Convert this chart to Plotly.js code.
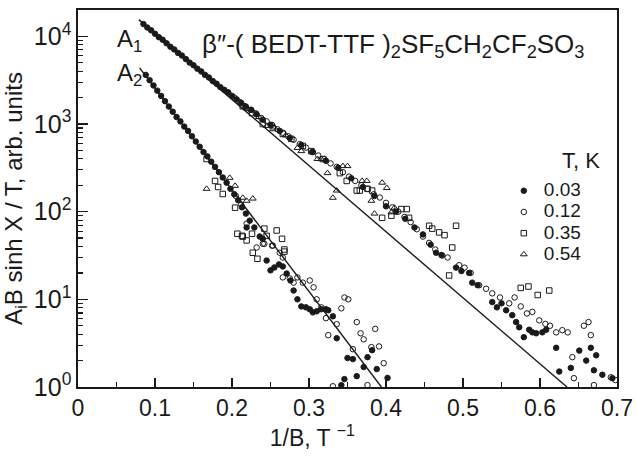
<!DOCTYPE html>
<html><head><meta charset="utf-8">
<script src="https://cdn.plot.ly/plotly-3.0.1.min.js"></script>
<style>
html,body{margin:0;padding:0;background:#fff}
#chart .legendtext{font-size:19px !important}
</style>
</head><body><div id="chart" style="width:637px;height:458px"></div>
<script>
// ---- T = 0.03 K (filled circles) ----
const x003 = [0.085,0.090,0.095,0.100,0.105,0.110,0.115,0.120,0.125,0.130,0.135,0.140,0.145,0.150,0.155,0.160,0.165,0.170,0.175,0.180,0.185,0.190,0.195,0.200,0.206,0.212,0.218,0.225,0.232,0.240,0.250,0.262,0.275,0.290,0.305,0.322,0.338,0.355,0.370,0.385,0.400,0.413,0.425,0.437,0.448,0.458,0.465,0.472,0.491,0.498,0.508,0.512,0.519,0.538,0.544,0.550,0.556,0.564,0.569,0.573,0.579,0.586,0.590,0.595,0.603,0.608,0.621,0.625,0.640,0.651,0.660,0.666,0.670,0.673,0.681,0.694,
  0.088,0.093,0.098,0.103,0.108,0.113,0.118,0.123,0.128,0.133,0.138,0.143,0.148,0.153,0.158,0.163,0.168,0.173,0.178,0.183,0.188,0.193,0.198,0.203,0.208,0.213,0.218,0.223,0.219,0.229,0.236,0.240,0.245,0.250,0.255,0.261,0.266,0.271,0.276,0.280,0.285,0.290,0.296,0.301,0.305,0.310,0.316,0.322,0.325,0.331,0.336,0.342,0.346,0.350,0.357,0.362,0.371,0.376,0.382,0.388,0.402];
const y003 = [13800,12600,11700,10700,9770,9120,8320,7590,7080,6460,6030,5500,5010,4680,4270,3980,3630,3390,3090,2880,2630,2450,2290,2090,1910,1740,1580,1450,1290,1120,977,832,692,575,479,380,316,240,191,151,115,100,83,66,55,42,34,32,23,21,20,15.5,14.5,9.3,8.1,9.0,7.5,6.6,5.5,4.8,3.7,4.5,4.2,4.1,4.2,4.5,2.8,1.5,1.65,2.6,2.0,2.8,1.55,2.3,1.38,1.26,
  3630,3160,2750,2400,2090,1820,1580,1380,1200,1070,933,832,724,631,550,479,427,372,324,282,245,214,182,158,135,112,95,79,66,66,52,49,27.7,21.4,23.1,25,23.7,19.7,16.4,12.6,10,8.3,8.1,7.7,7.1,7.3,7.7,7.7,7.5,6.4,3.6,1.05,1.23,2.14,2.08,1.33,1.69,2.19,2.63,1.6,1.27];

// ---- T = 0.12 K (open circles) ----
const x012 = [0.195,0.203,0.210,0.217,0.224,0.231,0.238,0.245,0.252,0.259,0.266,0.273,0.280,0.288,0.296,0.304,0.312,0.320,0.328,0.336,0.344,0.352,0.360,0.368,0.376,0.384,0.392,0.400,0.408,0.416,0.424,0.432,0.440,0.448,0.456,0.464,0.473,0.480,0.495,0.502,0.510,0.521,0.530,0.538,0.548,0.560,0.567,0.575,0.583,0.590,0.599,0.607,0.613,0.621,0.629,0.636,0.642,0.644,0.657,0.663,0.666,0.670,0.692,0.698,
  0.205,0.212,0.219,0.232,0.240,0.242,0.252,0.253,0.262,0.266,0.266,0.275,0.280,0.285,0.292,0.301,0.306,0.310,0.316,0.322,0.325,0.336,0.342,0.346,0.351,0.357,0.362,0.367,0.371,0.381,0.386,0.391,0.397,0.331,0.376];
const y012 = [2290,2000,1780,1580,1450,1320,1170,1070,977,871,794,724,661,589,537,479,437,398,355,324,282,251,224,200,182,158,145,126,112,100,87,76,63,52,44,37,31.6,30,24.5,23,20,14.5,13.2,11.7,10.5,9.0,10.5,8.3,6.9,7.2,5.75,5.25,5.0,4.2,4.45,4.2,2.19,1.26,5.0,5.5,3.9,1.05,1.29,1.2,
  151,120,73,39,43,43,41,41,34,30,17.8,17.3,15.5,17.8,15.5,16.4,13.7,10,8.1,6.1,3.9,5.2,7.9,10.5,10,2.7,5.5,4.1,3.5,2.85,4.6,2.9,1.87,1.02,1.05];

// ---- T = 0.35 K (open squares) ----
const x035 = [0.214,0.226,0.240,0.253,0.266,0.277,0.292,0.303,0.318,0.340,0.349,0.362,0.366,0.376,0.382,0.395,0.407,0.420,0.427,0.430,0.456,0.460,0.469,0.476,0.491,0.486,0.482,0.575,0.585,0.597,0.612,
  0.167,0.178,0.182,0.188,0.204,0.207,0.214,0.219,0.226,0.245,0.258,0.265,0.268,0.242,0.233,0.213,0.227,0.268];
const y035 = [1590,1330,1000,900,770,676,562,490,398,275,224,174,174,182,174,85,90,107,107,85,69,64,58,54,69,39,18.7,13.5,14,11.2,12.6,
  398,224,191,159,111,56,52,47,56,53,61,49,37,64,29,53,34,35];

// ---- T = 0.54 K (open triangles) ----
const x054 = [0.220,0.235,0.245,0.255,0.270,0.285,0.290,0.311,0.316,0.324,0.331,0.336,0.344,0.350,0.369,0.375,0.395,0.401,0.381,0.385,0.407,0.411,
  0.167,0.197,0.204,0.219,0.227,0.214];
const y054 = [1480,1200,950,912,741,533,490,398,398,275,144,174,331,331,224,224,214,186,133,95,98,111,
  182,243,197,133,141,144];

// ---- fitted straight lines ----
const fitA1x = [0.079, 0.635];
const fitA1y = [15500, 1];
const fitA2x = [0.080, 0.394];
const fitA2y = [4370, 1];

// ---- labels ----
const seriesNames = ['0.03','0.12','0.35','0.54'];
const xTickVals = [0,0.1,0.2,0.3,0.4,0.5,0.6,0.7];
const xTickText = ['0','0.1','0.2','0.3','0.4','0.5','0.6','0.7'];
const yTickVals = [1,10,100,1000,10000];
const yTickText = ['10<sup>0</sup>','10<sup>1</sup>','10<sup>2</sup>','10<sup>3</sup>','10<sup>4</sup>'];

const FONT = 'Liberation Sans, Arial, Helvetica, sans-serif';
const INK = '#1a1a1a';
const NB = '\u00a0';
const ZW = '\u200b';
const padName = s => s + NB.repeat(5) + ZW;

const mk = (sym, size) => ({symbol: sym, size: size, color: INK, line: {color: INK, width: 1}});
const traces = [
  {x: fitA1x, y: fitA1y, mode: 'lines', line: {color: INK, width: 1.4}, showlegend: false, hoverinfo: 'skip'},
  {x: fitA2x, y: fitA2y, mode: 'lines', line: {color: INK, width: 1.4}, showlegend: false, hoverinfo: 'skip'},
  {x: x054, y: y054, mode: 'markers', name: padName(seriesNames[3]), marker: mk('triangle-up-open', 6)},
  {x: x035, y: y035, mode: 'markers', name: padName(seriesNames[2]), marker: mk('square-open', 5.5)},
  {x: x012, y: y012, mode: 'markers', name: padName(seriesNames[1]), marker: mk('circle-open', 5.5)},
  {x: x003, y: y003, mode: 'markers', name: padName(seriesNames[0]), marker: mk('circle', 5.5)}
];

const layout = {
  width: 637, height: 458,
  margin: {l: 78, r: 20, t: 10, b: 71},
  paper_bgcolor: '#fff', plot_bgcolor: '#fff',
  font: {family: FONT, color: INK, size: 20},
  showlegend: true,
  legend: {x: 0.79, y: 0.562, xanchor: 'left', yanchor: 'top', traceorder: 'reversed',
           font: {size: 14, family: FONT, color: INK}, bgcolor: 'rgba(0,0,0,0)', borderwidth: 0},
  xaxis: {
    range: [0, 0.7], tickvals: xTickVals, ticktext: xTickText,
    ticks: 'inside', ticklen: 9, tickwidth: 1.3, tickcolor: INK,
    minor: {ticks: 'inside', ticklen: 5, tickwidth: 1.2, dtick: 0.05, tickcolor: INK},
    showline: true, linecolor: INK, linewidth: 1.6, mirror: true,
    showgrid: false, zeroline: false,
    tickfont: {size: 23, family: FONT, color: INK},
    title: {text: '1/B, T <sup>\u22121</sup>' + NB.repeat(11) + ZW, font: {size: 23, family: FONT, color: INK}, standoff: 6}
  },
  yaxis: {
    type: 'log', range: [0, 4.3],
    tickvals: yTickVals, ticktext: yTickText,
    ticks: 'inside', ticklen: 10, tickwidth: 1.3, tickcolor: INK,
    minor: {ticks: 'inside', ticklen: 5, tickwidth: 1.2, dtick: 'D1', tickcolor: INK},
    showline: true, linecolor: INK, linewidth: 1.6, mirror: true,
    showgrid: false, zeroline: false,
    tickfont: {size: 25, family: FONT, color: INK},
    title: {text: NB.repeat(2) + 'A<sub>i</sub>B sinh X / T, arb. units', font: {size: 24, family: FONT, color: INK}, standoff: 4}
  },
  annotations: [
    {xref: 'paper', yref: 'paper', x: 0.095, y: 0.92, xanchor: 'center', yanchor: 'middle', text: 'A<sub>1</sub>', showarrow: false, font: {size: 24, family: FONT, color: INK}},
    {xref: 'paper', yref: 'paper', x: 0.095, y: 0.828, xanchor: 'center', yanchor: 'middle', text: 'A<sub>2</sub>', showarrow: false, font: {size: 24, family: FONT, color: INK}},
    {xref: 'paper', yref: 'paper', x: 0.584, y: 0.905, xanchor: 'center', yanchor: 'middle', text: '\u03b2\u2033-( BEDT-TTF )<sub>2</sub>SF<sub>5</sub>CH<sub>2</sub>CF<sub>2</sub>SO<sub>3</sub>', showarrow: false, font: {size: 26, family: FONT, color: INK}},
    {xref: 'paper', yref: 'paper', x: 0.934, y: 0.602, xanchor: 'center', yanchor: 'middle', text: 'T, K', showarrow: false, font: {size: 22, family: FONT, color: INK}}
  ]
};

Plotly.newPlot('chart', traces, layout, {staticPlot: true, displayModeBar: false});
</script></body></html>
